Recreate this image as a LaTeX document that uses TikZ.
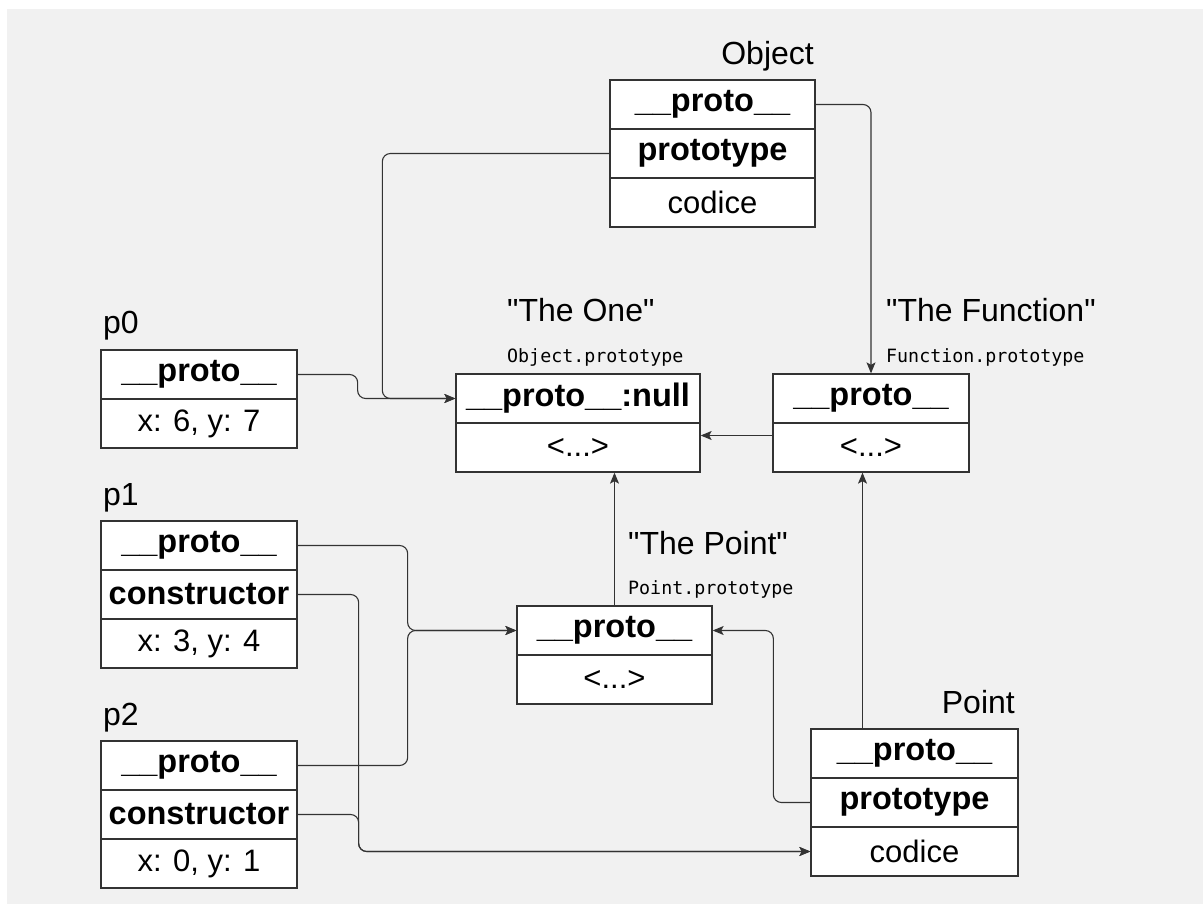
\documentclass[tikz,border=0pt]{standalone}
\usepackage{fontspec}
\setmainfont{Liberation Sans}[Ligatures=TeXOff]
\newfontfamily\monof{DejaVu Sans Mono}
\usetikzlibrary{arrows.meta,calc}
\definecolor{bg}{HTML}{F1F1F1}
\definecolor{ink}{HTML}{333333}
\begin{document}
\begin{tikzpicture}[x=1pt,y=-1pt,
  cell/.style={draw=ink, line width=1.3pt, fill=white, inner sep=0pt,
    minimum height=49pt, minimum width=#1, font=\fontsize{31}{36}\selectfont},
  bcell/.style={cell=#1, font=\fontsize{32.5}{36}\selectfont\bfseries},
  name label/.style={inner sep=0pt, font=\fontsize{32}{36}\selectfont},
  code label/.style={inner sep=0pt, font=\fontsize{18.3}{22}\selectfont\monof},
  conn/.style={draw=ink, line width=1.1pt, rounded corners=8pt,
    -{Stealth[length=11pt,width=9pt,inset=2.5pt]}}]

\useasboundingbox (0,0) rectangle (1203,904);
\fill[bg] (7,9) rectangle (1203,904);

% --- Object (constructor function) ---
\node[bcell=205pt] (objA) at (712.5,104.5) {\_\_proto\_\_};
\node[bcell=205pt] (objB) at (712.5,153.5) {prototype};
\node[cell=205pt]  (objC) at (712.5,202.5) {codice};
\node[name label, anchor=base east] (objL) at (814,65) {Object};

% --- Object.prototype ---
\node[bcell=244pt] (oneA) at (578,398.5) {\_\_proto\_\_:null};
\node[cell=244pt]  (oneB) at (578,447.5) {<...>};
\node[name label, anchor=base west] (oneL) at (507,322) {"The One"};
\node[code label, anchor=base west] (oneC) at (507,362) {Object.prototype};

% --- Function.prototype ---
\node[bcell=196pt] (fnA) at (871,398.5) {\_\_proto\_\_};
\node[cell=196pt]  (fnB) at (871,447.5) {<...>};
\node[name label, anchor=base west] (fnL) at (886,322) {"The Function"};
\node[code label, anchor=base west] (fnC) at (886,362) {Function.prototype};

% --- Point.prototype ---
\node[bcell=195pt] (ptA) at (614.5,630.5) {\_\_proto\_\_};
\node[cell=195pt]  (ptB) at (614.5,679.5) {<...>};
\node[name label, anchor=base west] (ptL) at (628,554) {"The Point"};
\node[code label, anchor=base west] (ptC) at (628,594) {Point.prototype};

% --- Point (constructor function) ---
\node[bcell=207pt] (pointA) at (914.5,753.5) {\_\_proto\_\_};
\node[bcell=207pt] (pointB) at (914.5,802.5) {prototype};
\node[cell=207pt]  (pointC) at (914.5,851.5) {codice};
\node[name label, anchor=base east] (pointL) at (1015,713) {Point};

% --- instances ---
\node[bcell=196pt] (p0a) at (199,374.5) {\_\_proto\_\_};
\node[cell=196pt]  (p0b) at (199,423.5) {x: 6, y: 7};
\node[name label, anchor=base west] (p0L) at (103,334) {p0};

\node[bcell=196pt] (p1a) at (199,545.5) {\_\_proto\_\_};
\node[bcell=196pt] (p1b) at (199,594.5) {constructor};
\node[cell=196pt]  (p1c) at (199,643.5) {x: 3, y: 4};
\node[name label, anchor=base west] (p1L) at (103,505) {p1};

\node[bcell=196pt] (p2a) at (199,765.5) {\_\_proto\_\_};
\node[bcell=196pt] (p2b) at (199,814.5) {constructor};
\node[cell=196pt]  (p2c) at (199,863.5) {x: 0, y: 1};
\node[name label, anchor=base west] (p2L) at (103,725) {p2};

% --- prototype links ---
\draw[conn] (objA.east) -| (fnA.north);
\draw[conn] (objB.west) -- ++(-227,0) |- (oneA.west);
\draw[conn] (p0a.east) -- ++(60,0) |- (oneA.west);
\draw[conn] ([yshift=12pt]fnB.west) -- ([yshift=12pt]oneB.east);
\draw[conn] (ptA.north) -- (ptA.north |- oneB.south);
\draw[conn] ([xshift=-52pt]pointA.north) -- ([xshift=-52pt]pointA.north |- fnB.south);
\draw[conn] (pointB.west) -- ++(-37,0) |- (ptA.east);
\draw[conn] (p1a.east) -- ++(110,0) |- (ptA.west);
\draw[conn] (p2a.east) -- ++(110,0) |- (ptA.west);
\draw[conn] (p1b.east) -- ++(61,0) |- (pointC.west);
\draw[conn] (p2b.east) -- ++(61,0) |- (pointC.west);
\end{tikzpicture}
\end{document}
